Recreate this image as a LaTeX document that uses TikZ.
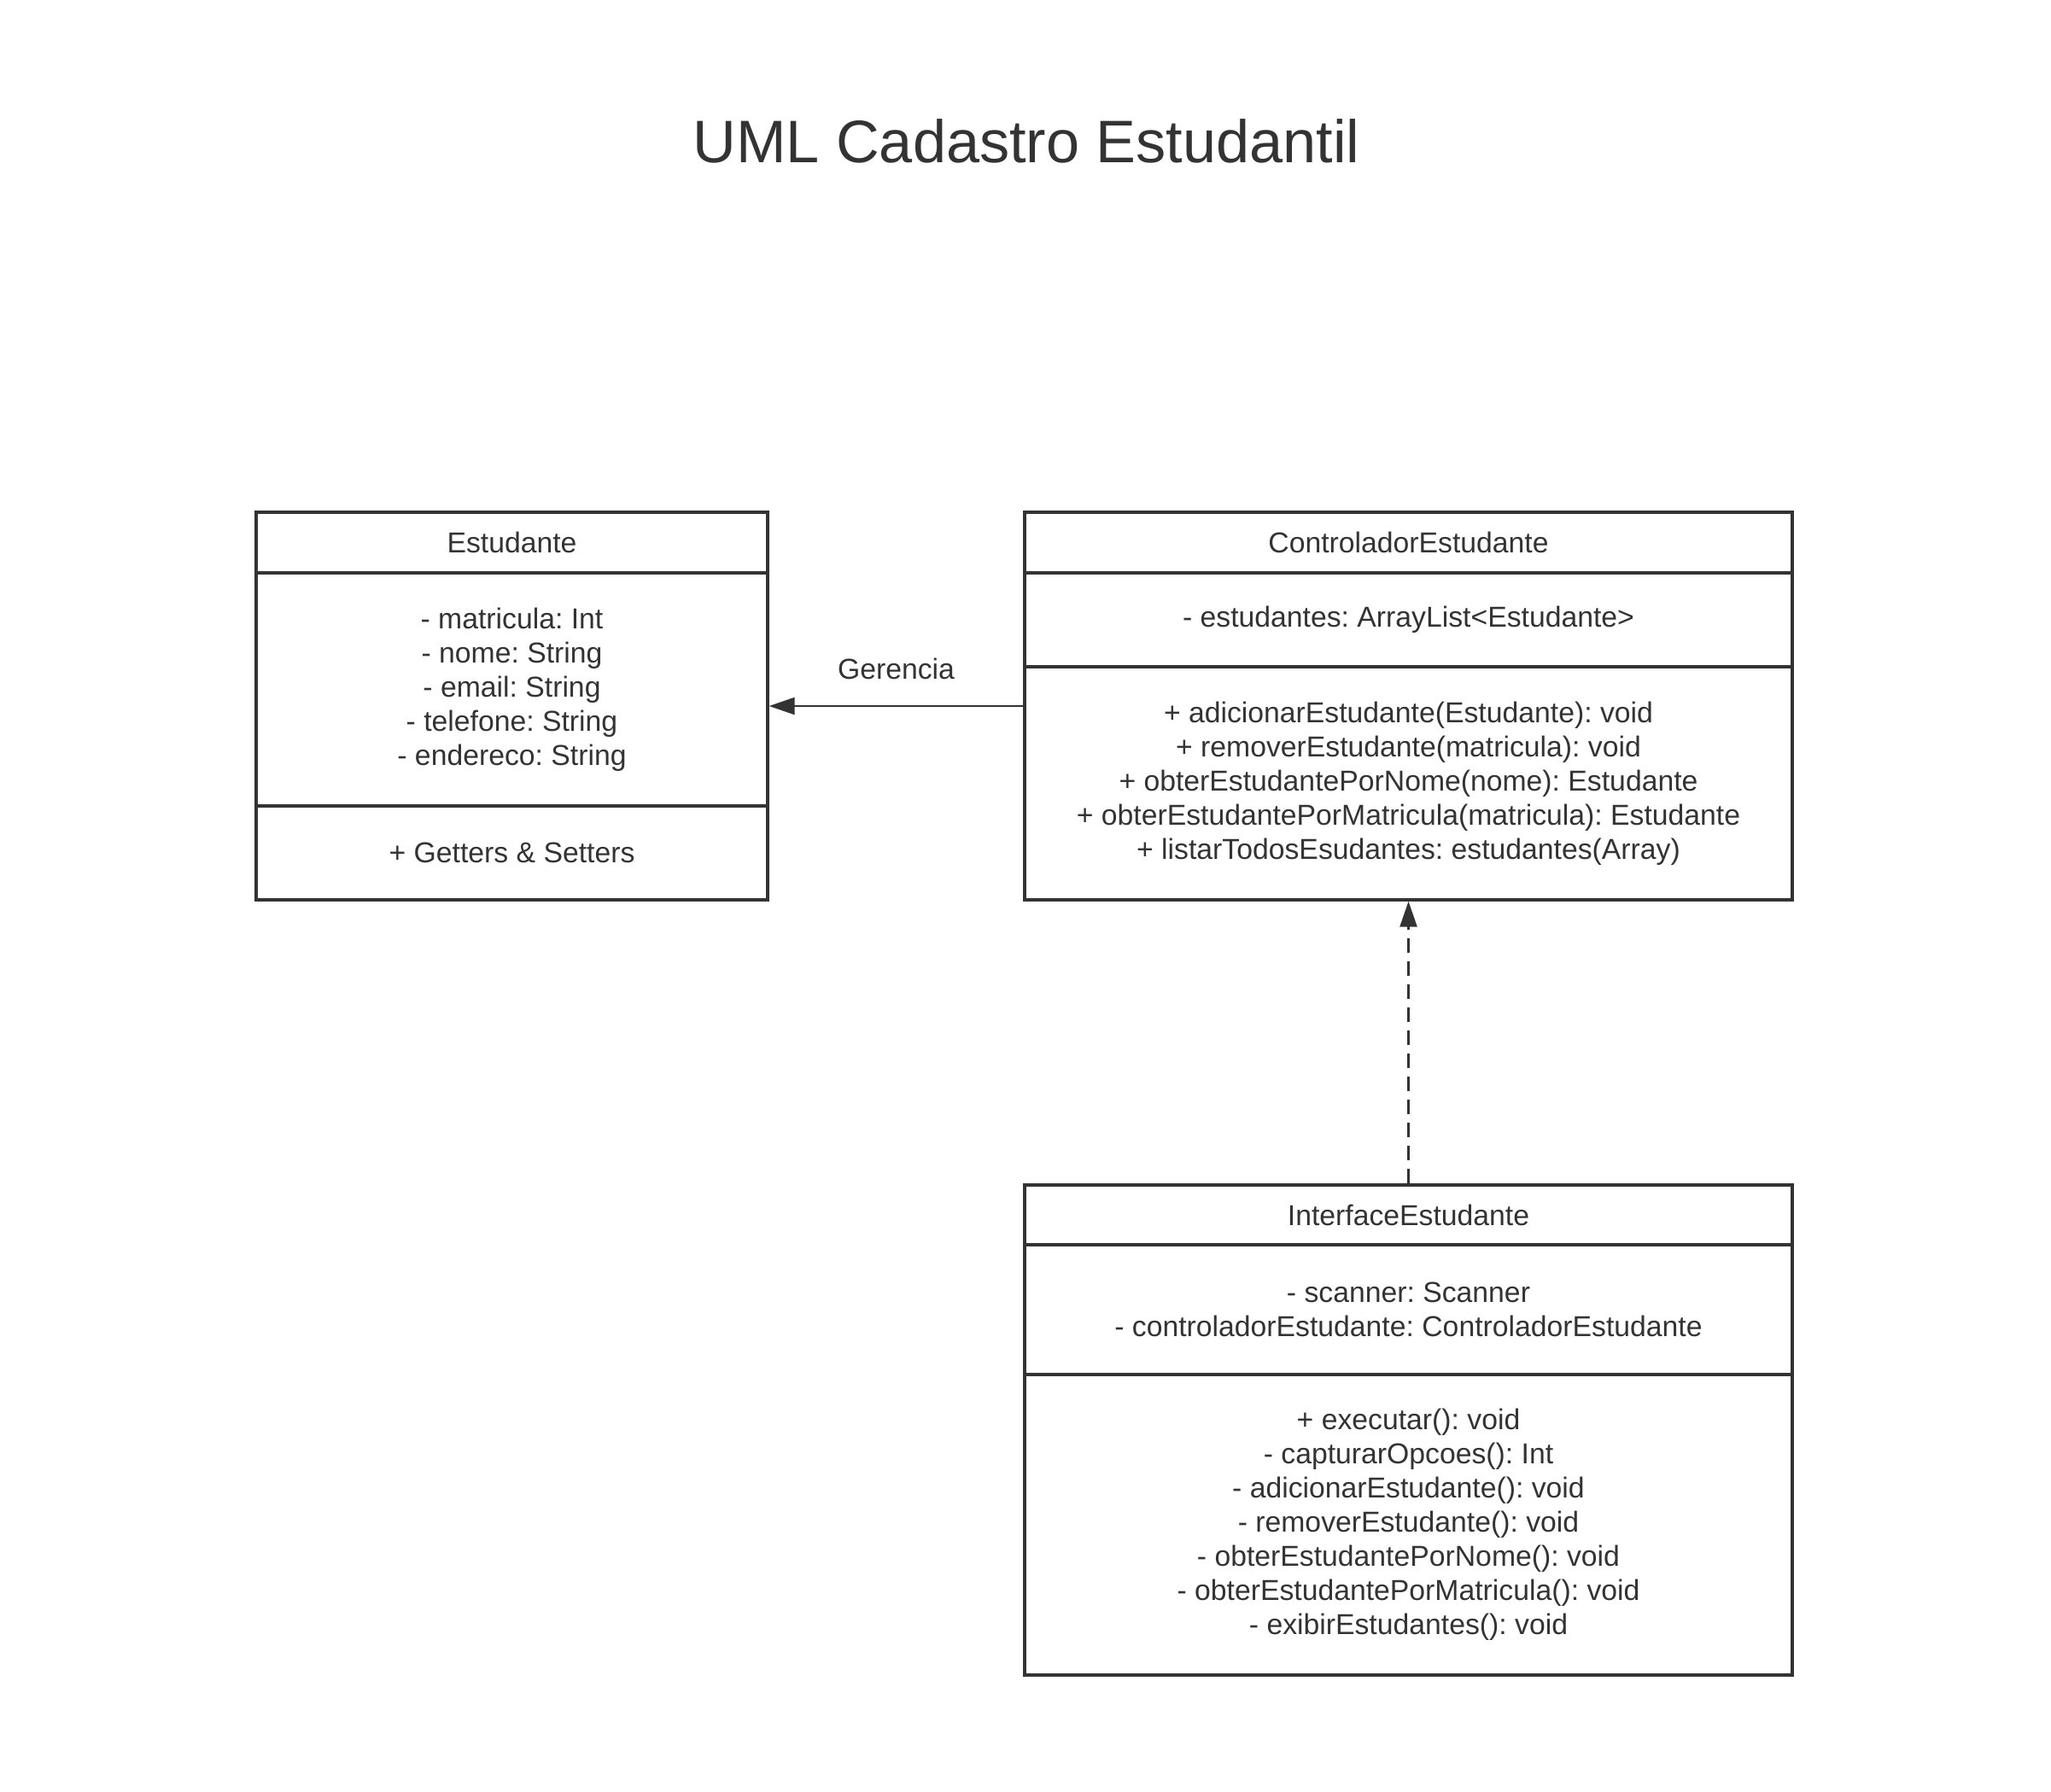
\documentclass[tikz,border=0pt]{standalone}
\usepackage{fontspec}
\setmainfont{Liberation Sans}
\usepackage{tikz}
\usetikzlibrary{positioning,fit,arrows.meta}
\definecolor{umlgray}{HTML}{333333}
\frenchspacing

\tikzset{
  compart/.style={draw=umlgray, line width=0.95pt, text=umlgray, align=center,
    outer sep=0pt, inner sep=0pt, font=\fontsize{9.6}{11.4}\selectfont},
  classbox/.style={inner sep=0pt, outer sep=0.475pt},
  relation/.style={draw=umlgray, line width=0.7pt, -{Triangle[length=3mm,width=2mm]}},
}

\begin{document}
\begin{tikzpicture}
  % Page area
  \useasboundingbox (0,0) rectangle (24.02,-20.98);

  % Title
  \node[text=umlgray, font=\fontsize{20}{24}\selectfont] (title) at (12.02,-1.65) {UML Cadastro Estudantil};

  % Estudante class
  \node[compart, anchor=north west, minimum width=5.99cm, minimum height=0.71cm] (estHead) at (3.00,-6.00) {Estudante};
  \node[compart, below=0pt of estHead, minimum width=5.99cm, minimum height=2.73cm] (estAttr)
    {- matricula: Int\\- nome: String\\- email: String\\- telefone: String\\- endereco: String};
  \node[compart, below=0pt of estAttr, minimum width=5.99cm, minimum height=1.10cm] (estMeth) {+ Getters \& Setters};
  \node[classbox, fit=(estHead)(estMeth)] (est) {};

  % ControladorEstudante class
  \node[compart, anchor=north west, minimum width=8.99cm, minimum height=0.71cm] (ctrlHead) at (12.00,-6.00) {ControladorEstudante};
  \node[compart, below=0pt of ctrlHead, minimum width=8.99cm, minimum height=1.10cm] (ctrlAttr)
    {- estudantes: ArrayList<Estudante>};
  \node[compart, below=0pt of ctrlAttr, minimum width=8.99cm, minimum height=2.73cm] (ctrlMeth)
    {+ adicionarEstudante(Estudante): void\\
     + removerEstudante(matricula): void\\
     + obterEstudantePorNome(nome): Estudante\\
     + obterEstudantePorMatricula(matricula): Estudante\\
     + listarTodosEsudantes: estudantes(Array)};
  \node[classbox, fit=(ctrlHead)(ctrlMeth)] (ctrl) {};

  % InterfaceEstudante class
  \node[compart, anchor=north west, minimum width=8.99cm, minimum height=0.70cm] (ifcHead) at (12.00,-13.88) {InterfaceEstudante};
  \node[compart, below=0pt of ifcHead, minimum width=8.99cm, minimum height=1.52cm] (ifcAttr)
    {- scanner: Scanner\\- controladorEstudante: ControladorEstudante};
  \node[compart, below=0pt of ifcAttr, minimum width=8.99cm, minimum height=3.52cm] (ifcMeth)
    {+ executar(): void\\
     - capturarOpcoes(): Int\\
     - adicionarEstudante(): void\\
     - removerEstudante(): void\\
     - obterEstudantePorNome(): void\\
     - obterEstudantePorMatricula(): void\\
     - exibirEstudantes(): void};
  \node[classbox, fit=(ifcHead)(ifcMeth)] (ifc) {};

  % Relations
  \draw[relation] (ctrl.west) -- node[midway, yshift=0.44cm, text=umlgray, font=\fontsize{9.6}{11.4}\selectfont] (gerLabel) {Gerencia} (est.east);
  \draw[relation, dash pattern=on 1.7mm off 1mm] (ifc.north) -- (ctrl.south);
\end{tikzpicture}
\end{document}
